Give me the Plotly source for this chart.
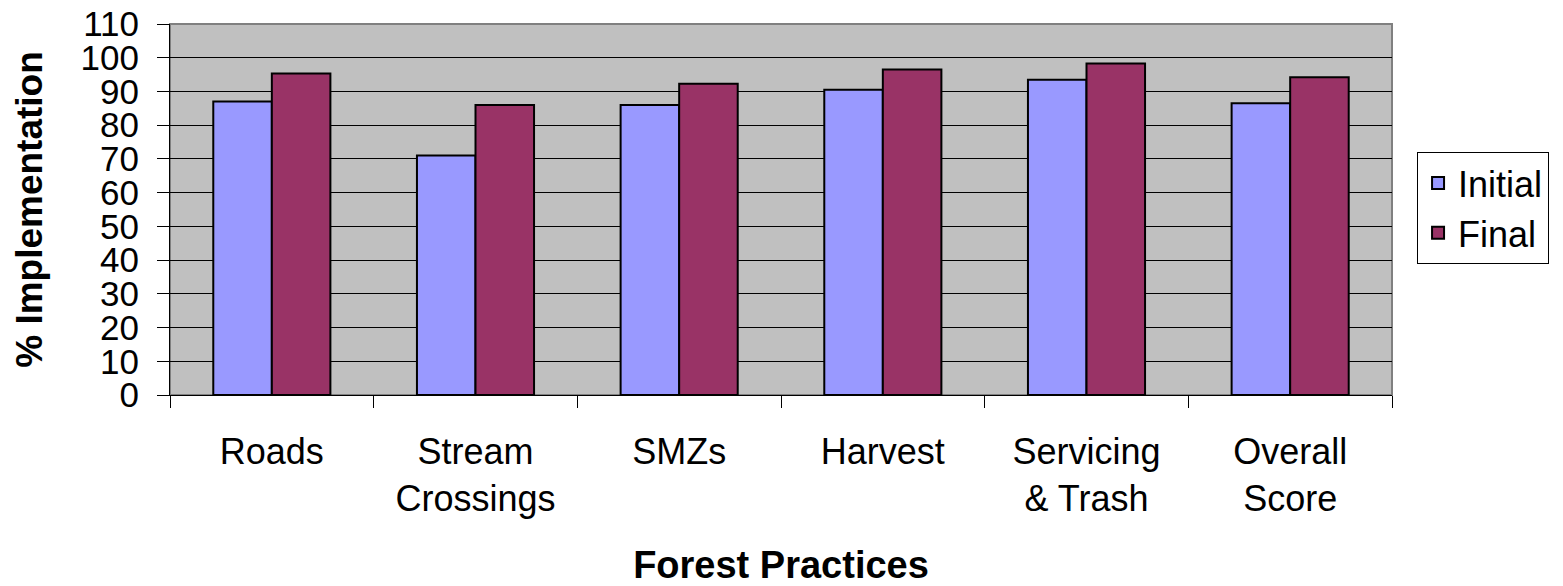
import plotly.graph_objects as go

categories = ["Roads", "Stream<br>Crossings", "SMZs", "Harvest", "Servicing<br>& Trash", "Overall<br>Score"]
initial = [87, 71, 86, 90.5, 93.5, 86.5]
final = [95.3, 86, 92.3, 96.5, 98.3, 94.2]
series_names = ["Initial", "Final"]
y_ticks = list(range(0, 111, 10))

FONT = "Arial, Liberation Sans, sans-serif"

fig = go.Figure()
fig.add_trace(go.Bar(x=categories, y=initial, name=series_names[0],
                     marker=dict(color="#9999FF", line=dict(color="black", width=2))))
fig.add_trace(go.Bar(x=categories, y=final, name=series_names[1],
                     marker=dict(color="#993366", line=dict(color="black", width=2))))

fig.update_layout(
    width=1563, height=586,
    margin=dict(l=170, r=171, t=24, b=191, autoexpand=False),
    paper_bgcolor="white",
    plot_bgcolor="#C0C0C0",
    barmode="group",
    bargap=0.425,
    bargroupgap=0,
    font=dict(family=FONT, size=35, color="black"),
    showlegend=True,
    legend=dict(x=1.0205, y=0.655, xanchor="left", yanchor="top",
                bgcolor="white", bordercolor="black", borderwidth=1,
                font=dict(size=36), tracegroupgap=0, itemsizing="constant"),
    xaxis=dict(
        showline=True, linecolor="black", linewidth=1,
        ticks="outside", ticklen=12, tickcolor="black", tickson="boundaries",
        showgrid=False, ticklabelstandoff=25,
        tickfont=dict(size=36),
        title=dict(text="<b>Forest Practices</b>", font=dict(size=38), standoff=42),
    ),
    yaxis=dict(
        range=[0, 110], tickvals=y_ticks,
        showline=True, linecolor="black", linewidth=1,
        ticks="outside", ticklen=12, tickcolor="black",
        showgrid=True, gridcolor="black", gridwidth=1,
        zeroline=False, ticklabelstandoff=11, ticklabeloverflow="allow",
        tickfont=dict(size=35),
        title=dict(text="<b>% Implementation</b>", font=dict(size=37), standoff=26),
    ),
    shapes=[dict(type="rect", xref="paper", yref="paper", x0=0, x1=1, y0=0, y1=1,
                 line=dict(color="#808080", width=2), layer="below")],
)

fig.write_html("out.html", config={"displayModeBar": False},
               post_script="document.body.style.margin='0';")
